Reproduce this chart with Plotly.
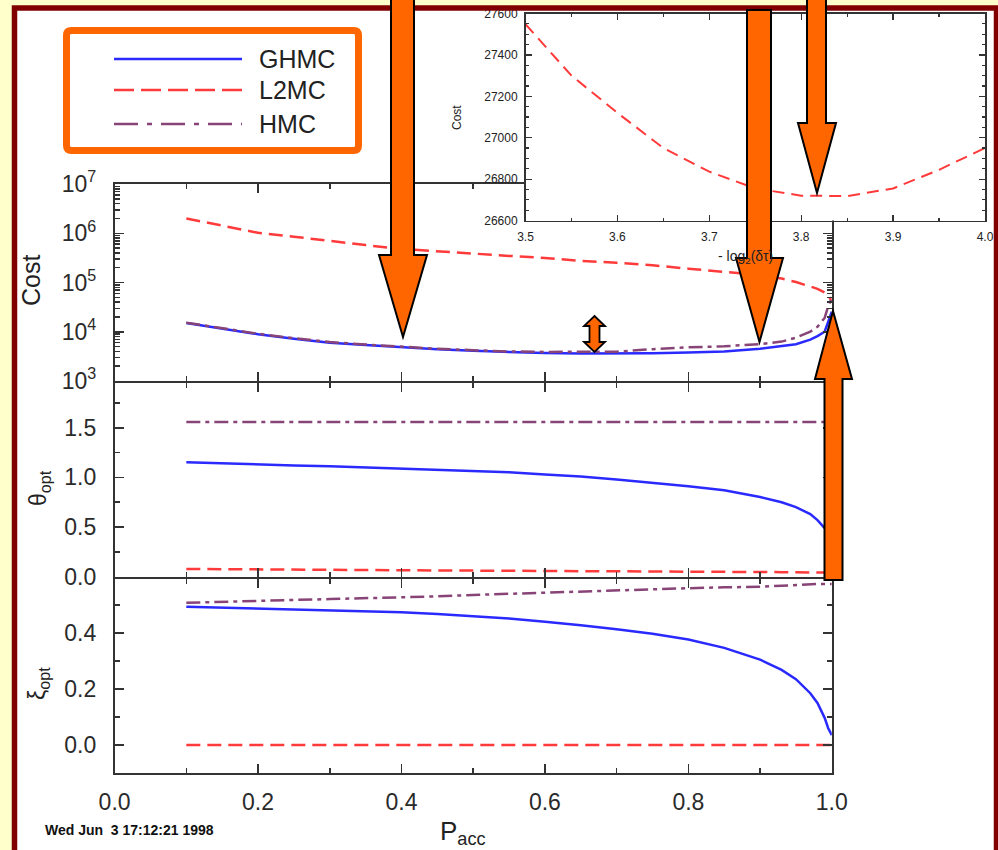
import plotly.graph_objects as go

W, H = 998, 850

# ---------------- data ----------------
p_acc = [0.1, 0.15, 0.2, 0.25, 0.3, 0.35, 0.4, 0.45, 0.5, 0.55, 0.6, 0.65, 0.7,
         0.75, 0.8, 0.85, 0.9, 0.93, 0.95, 0.97, 0.98, 0.99, 0.995, 1.0]

cost_ghmc = [15100, 11500, 8900, 7200, 6000, 5400, 4800, 4400, 4100, 3850, 3700, 3630,
             3630, 3670, 3800, 3980, 4520, 5070, 5560, 6920, 8130, 10000, 16200, 25700]
cost_l2mc = [2.0e6, 1.41e6, 1.02e6, 8.5e5, 6.9e5, 5.75e5, 4.8e5, 4.27e5, 3.85e5, 3.47e5,
             3.16e5, 2.75e5, 2.51e5, 2.24e5, 1.91e5, 1.66e5, 1.41e5, 1.2e5, 1.02e5, 8.3e4,
             7.4e4, 6.3e4, 5.5e4, 4.2e4]
cost_hmc = [15300, 11700, 9100, 7400, 6200, 5500, 4900, 4520, 4220, 3980, 3890, 3850,
            3940, 4420, 4840, 5070, 5620, 6310, 7590, 10000, 12600, 19100, 33100, 49000]

theta_ghmc = [1.153, 1.14, 1.13, 1.12, 1.112, 1.10, 1.09, 1.078, 1.065, 1.052, 1.03, 1.01,
              0.98, 0.948, 0.912, 0.87, 0.803, 0.75, 0.70, 0.63, 0.57, 0.49, 0.45, 0.40]
theta_l2mc = [0.078, 0.077, 0.075, 0.072, 0.069, 0.067, 0.065, 0.063, 0.062, 0.060, 0.059,
              0.058, 0.057, 0.055, 0.053, 0.050, 0.047, 0.046, 0.045, 0.044, 0.043, 0.042,
              0.042, 0.041]
theta_hmc = [1.557] * 24

xi_ghmc = [0.494, 0.491, 0.488, 0.485, 0.482, 0.478, 0.474, 0.468, 0.461, 0.452, 0.44, 0.428,
           0.413, 0.397, 0.377, 0.347, 0.305, 0.268, 0.235, 0.185, 0.15, 0.097, 0.06, 0.035]
xi_l2mc = [0.0] * 24
xi_hmc = [0.508, 0.512, 0.515, 0.518, 0.521, 0.524, 0.527, 0.531, 0.536, 0.54, 0.545, 0.55,
          0.554, 0.557, 0.56, 0.563, 0.565, 0.569, 0.572, 0.574, 0.575, 0.575, 0.575, 0.575]

inset_x = [3.5, 3.55, 3.6, 3.65, 3.7, 3.75, 3.8, 3.85, 3.9, 3.95, 4.0]
inset_cost = [27548, 27300, 27120, 26950, 26836, 26755, 26720, 26718, 26755, 26845, 26950]

x_major = [0.0, 0.2, 0.4, 0.6, 0.8, 1.0]
x_major_text = ["0.0", "0.2", "0.4", "0.6", "0.8", "1.0"]
x_minor = [0.1, 0.3, 0.5, 0.7, 0.9]
cost_major = [1e3, 1e4, 1e5, 1e6, 1e7]
cost_major_text = ["10<sup>3</sup>", "10<sup>4</sup>", "10<sup>5</sup>", "10<sup>6</sup>", "10<sup>7</sup>"]
cost_minor = [m * 10 ** e for e in range(3, 7) for m in range(2, 10)]
theta_major = [0.0, 0.5, 1.0, 1.5]
theta_major_text = ["0.0", "0.5", "1.0", "1.5"]
theta_minor = [0.25, 0.75, 1.25, 1.75]
xi_major = [0.0, 0.2, 0.4]
xi_major_text = ["0.0", "0.2", "0.4"]
xi_minor = [0.1, 0.3, 0.5]
inset_xt = [3.5, 3.6, 3.7, 3.8, 3.9, 4.0]
inset_xt_text = ["3.5", "3.6", "3.7", "3.8", "3.9", "4.0"]
inset_xminor = [3.55, 3.65, 3.75, 3.85, 3.95]
inset_yt = [26600, 26800, 27000, 27200, 27400, 27600]
inset_yt_text = ["26600", "26800", "27000", "27200", "27400", "27600"]
inset_yminor = [v for v in range(26650, 27600, 50) if v % 200 != 0]

series = ["GHMC", "L2MC", "HMC"]

# ---------------- styles ----------------
BLUE = "#2a2aff"
RED = "#ff3a3a"
PURPLE = "#884477"
ORANGE = "#ff6600"
AX = "#333333"
FONT = "Liberation Sans, Arial, Helvetica, sans-serif"
DASH = "14px,7px"
DASHDOT = "14px,5px,4px,5px"
styles = {"GHMC": dict(color=BLUE, width=2.5, dash="solid"),
          "L2MC": dict(color=RED, width=2.5, dash=DASH),
          "HMC": dict(color=PURPLE, width=2.5, dash=DASHDOT)}
LW = 1.8


def px(x):
    return x / W


def py(y):
    return 1 - y / H


def pt(x, y):
    return f"{px(x):.5f},{py(y):.5f}"


fig = go.Figure()

panels = [("x", "y", [cost_ghmc, cost_l2mc, cost_hmc]),
          ("x2", "y2", [theta_ghmc, theta_l2mc, theta_hmc]),
          ("x3", "y3", [xi_ghmc, xi_l2mc, xi_hmc])]
for xa, ya, vals in panels:
    for name, v in zip(series, vals):
        fig.add_trace(go.Scatter(x=p_acc, y=v, mode="lines", name=name, xaxis=xa, yaxis=ya,
                                 line=styles[name], showlegend=False, hoverinfo="skip"))

fig.add_trace(go.Scatter(x=inset_x, y=inset_cost, mode="lines", xaxis="x4", yaxis="y4",
                         line=dict(color=RED, width=2, dash="12px,7px"), showlegend=False,
                         hoverinfo="skip"))

# ---------------- axes ----------------
xdom = [px(114.6), px(831.8)]
common = dict(showline=True, linecolor=AX, linewidth=LW, mirror="ticks", ticks="inside",
              tickcolor=AX, tickwidth=1.5, showgrid=False, zeroline=False, automargin=False,
              tickfont=dict(family=FONT, size=23, color="#2a2a2a"))


def xaxis(anchor, labels):
    d = dict(common)
    d.update(domain=xdom, range=[0, 1], anchor=anchor, tickmode="array", tickvals=x_major,
             ticktext=x_major_text, ticklen=9, showticklabels=labels, ticklabelstandoff=8,
             minor=dict(tickmode="array", tickvals=x_minor, ticks="inside", ticklen=5,
                        tickcolor=AX, tickwidth=1.5, showgrid=False))
    return d


def yaxis(anchor, dom, rng, tv, tt, mv, typ="linear"):
    d = dict(common)
    d.update(domain=dom, range=rng, anchor=anchor, type=typ, tickmode="array", tickvals=tv,
             ticktext=tt, ticklen=9, ticklabelstandoff=12,
             minor=dict(tickmode="array", tickvals=mv, ticks="inside", ticklen=5,
                        tickcolor=AX, tickwidth=1.5, showgrid=False))
    return d


# panel pixel boxes (the lower panels start one line width lower so shared borders coincide)
top_box = (184, 381)
mid_box = (381 + LW, 576.7)
bot_box = (577 + LW, 773)
theta_top = (mid_box[1] - mid_box[0]) / 99.3
xi_top = -0.1 + (bot_box[1] - bot_box[0]) / 280.0

fig.update_layout(
    xaxis=xaxis("y", False),
    xaxis2=xaxis("y2", False),
    xaxis3=xaxis("y3", True),
    yaxis=yaxis("x", [py(top_box[1]), py(top_box[0])], [3, 7], cost_major, cost_major_text,
                cost_minor, "log"),
    yaxis2=yaxis("x2", [py(mid_box[1]), py(mid_box[0])], [0, theta_top], theta_major,
                 theta_major_text, theta_minor),
    yaxis3=yaxis("x3", [py(bot_box[1]), py(bot_box[0])], [-0.1, xi_top], xi_major,
                 xi_major_text, xi_minor),
)

inset_common = dict(showline=True, linecolor=AX, linewidth=1.5, mirror="ticks", ticks="inside",
                    tickcolor=AX, tickwidth=1.2, ticklen=6, showgrid=False, zeroline=False,
                    automargin=False, tickfont=dict(family=FONT, size=12, color="#222"))
fig.update_layout(
    xaxis4=dict(inset_common, domain=[px(525.5), px(985)], range=[3.5, 4.0], anchor="y4",
                tickmode="array", tickvals=inset_xt, ticktext=inset_xt_text, ticklabelstandoff=5,
                minor=dict(tickmode="array", tickvals=inset_xminor, ticks="inside", ticklen=3,
                           tickcolor=AX, tickwidth=1.2)),
    yaxis4=dict(inset_common, domain=[py(220.5), py(13.5)], range=[26600, 27600], anchor="x4",
                tickmode="array", tickvals=inset_yt, ticktext=inset_yt_text, ticklabelstandoff=4,
                minor=dict(tickmode="array", tickvals=inset_yminor, ticks="inside", ticklen=3,
                           tickcolor=AX, tickwidth=1.2)),
)

# ---------------- shapes ----------------
shapes = []
# white page with dark red frame
shapes.append(dict(type="rect", xref="paper", yref="paper", x0=px(14.5), x1=px(996.5),
                   y0=py(870), y1=py(8), fillcolor="white", line=dict(width=0), layer="below"))
shapes.append(dict(type="rect", xref="paper", yref="paper", x0=px(14.5), x1=px(996.5),
                   y0=py(870), y1=py(8), fillcolor="rgba(0,0,0,0)",
                   line=dict(color="#800000", width=5.5), layer="above"))

# legend box
r = 5
x0, x1, y0, y1 = 66.5, 358.5, 30.5, 150.5
legend_path = (f"M{pt(x0 + r, y0)} L{pt(x1 - r, y0)} Q{pt(x1, y0)} {pt(x1, y0 + r)} "
               f"L{pt(x1, y1 - r)} Q{pt(x1, y1)} {pt(x1 - r, y1)} L{pt(x0 + r, y1)} "
               f"Q{pt(x0, y1)} {pt(x0, y1 - r)} L{pt(x0, y0 + r)} Q{pt(x0, y0)} {pt(x0 + r, y0)} Z")
shapes.append(dict(type="path", xref="paper", yref="paper", path=legend_path, fillcolor="white",
                   line=dict(color=ORANGE, width=7), layer="above"))
legend_rows = {"GHMC": 59, "L2MC": 90, "HMC": 124}
for name in series:
    yy = legend_rows[name]
    st = styles[name]
    shapes.append(dict(type="line", xref="paper", yref="paper", x0=px(114), x1=px(242),
                       y0=py(yy), y1=py(yy), layer="above",
                       line=dict(color=st["color"], width=2.5,
                                 dash=("20px,7px" if name == "L2MC" else
                                       "24px,9px,5px,9px" if name == "HMC" else "solid"))))


def down_arrow(sl, sr, top, hb, hl, hr, tx, ty):
    return (f"M{pt(sl, top)} L{pt(sr, top)} L{pt(sr, hb)} L{pt(hr, hb)} L{pt(tx, ty)} "
            f"L{pt(hl, hb)} L{pt(sl, hb)} Z")


arrow_style = dict(type="path", xref="paper", yref="paper", fillcolor=ORANGE,
                   line=dict(color="black", width=2), layer="above")
shapes.append(dict(arrow_style, path=down_arrow(391, 414, -5, 255, 379, 427, 403, 337)))
shapes.append(dict(arrow_style, path=down_arrow(747, 771, 10, 258, 736, 783, 759.5, 342)))
shapes.append(dict(arrow_style, path=down_arrow(807, 826, -5, 123, 798, 836, 817, 193)))
# up arrow
shapes.append(dict(arrow_style, path=(f"M{pt(824.5, 580)} L{pt(842.5, 580)} L{pt(842.5, 379)} "
                                      f"L{pt(852, 379)} L{pt(833, 311)} L{pt(815, 379)} "
                                      f"L{pt(824.5, 379)} Z")))
# small double arrow
shapes.append(dict(arrow_style, line=dict(color="black", width=1.8),
                   path=(f"M{pt(594.5, 316)} L{pt(605, 326)} L{pt(599.5, 326)} L{pt(599.5, 342)} "
                         f"L{pt(605, 342)} L{pt(594.5, 352)} L{pt(584, 342)} L{pt(589.5, 342)} "
                         f"L{pt(589.5, 326)} L{pt(584, 326)} Z")))

# ---------------- annotations ----------------
ann = []


def text(x, y, s, size, angle=0, xanchor="center", yanchor="middle", bold=False, color="#222"):
    ann.append(dict(x=px(x), y=py(y), xref="paper", yref="paper", text=(f"<b>{s}</b>" if bold else s),
                    showarrow=False, textangle=angle, xanchor=xanchor, yanchor=yanchor,
                    font=dict(family=FONT, size=size, color=color)))


for name in series:
    text(257, legend_rows[name], name, 25, xanchor="left")
text(31, 281, "Cost", 25, angle=-90)
text(39, 488, "θ<sub>opt</sub>", 23, angle=-90)
text(38, 684, "ξ<sub>opt</sub>", 23, angle=-90)
text(463, 832, "P<sub>acc</sub>", 26)
text(43, 830, "Wed Jun  3 17:12:21 1998", 14, xanchor="left", bold=True, color="#111")
text(457, 118, "Cost", 12, angle=-90)
text(745, 257, "- log<sub>2</sub>(δτ)", 14)

fig.update_layout(
    template="none",
    width=W, height=H, margin=dict(l=0, r=0, t=0, b=0, pad=0, autoexpand=False),
    paper_bgcolor="#ffffcc", plot_bgcolor="white",
    showlegend=False, shapes=shapes, annotations=ann,
    font=dict(family=FONT, color="#222"),
)

fig.write_html("out.html", config={"displayModeBar": False, "staticPlot": True},
               post_script="document.body.style.margin='0px';document.body.style.padding='0px';")
